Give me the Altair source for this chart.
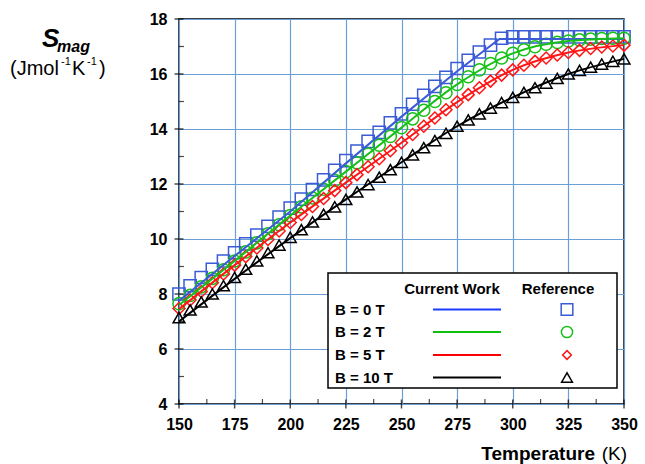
import altair as alt
import pandas as pd

FONT = "Liberation Sans"

# ---------------- data ----------------
series = ["B = 0 T", "B = 2 T", "B = 5 T", "B = 10 T"]

T_ref = list(range(150, 355, 5))
ref_b0 = [8.0, 8.3, 8.6, 8.9, 9.2, 9.5, 9.82, 10.14, 10.46, 10.8,
          11.12, 11.45, 11.8, 12.15, 12.5, 12.85, 13.2, 13.55, 13.88, 14.22,
          14.55, 14.9, 15.22, 15.55, 15.88, 16.2, 16.5, 16.8, 17.05, 17.3,
          17.35, 17.35, 17.35, 17.35, 17.35, 17.35, 17.35, 17.35, 17.35, 17.35, 17.35]
ref_b2 = [7.65, 7.95, 8.26, 8.57, 8.88, 9.2, 9.53, 9.86, 10.19, 10.52,
          10.85, 11.17, 11.49, 11.81, 12.13, 12.45, 12.77, 13.09, 13.41, 13.73,
          14.05, 14.37, 14.68, 15.0, 15.32, 15.62, 15.9, 16.15, 16.38, 16.58,
          16.75, 16.88, 16.99, 17.08, 17.15, 17.2, 17.24, 17.27, 17.29, 17.3, 17.3]
ref_b5 = [7.47, 7.78, 8.09, 8.41, 8.73, 9.05, 9.36, 9.67, 9.98, 10.29,
          10.6, 10.89, 11.18, 11.47, 11.76, 12.05, 12.34, 12.63, 12.92, 13.21,
          13.5, 13.8, 14.1, 14.4, 14.7, 14.98, 15.25, 15.5, 15.74, 15.96,
          16.15, 16.32, 16.46, 16.58, 16.69, 16.78, 16.86, 16.93, 16.98, 17.02, 17.05]
ref_b10 = [7.14, 7.42, 7.71, 8.0, 8.3, 8.6, 8.9, 9.2, 9.5, 9.78,
           10.06, 10.34, 10.62, 10.9, 11.17, 11.44, 11.71, 11.98, 12.25, 12.52,
           12.79, 13.06, 13.32, 13.58, 13.84, 14.1, 14.33, 14.55, 14.76, 14.96,
           15.15, 15.33, 15.5, 15.67, 15.84, 16.0, 16.13, 16.25, 16.36, 16.46, 16.55]

T_line_b0 = [150, 175, 200, 225, 250, 275, 294, 300, 325, 350]
line_b0 = [7.75, 9.38, 11.0, 12.75, 14.45, 16.1, 17.27, 17.27, 17.27, 17.27]
T_line = [150, 175, 200, 225, 250, 275, 300, 325, 350]
line_b2 = [7.6, 9.2, 10.85, 12.45, 14.05, 15.62, 16.75, 17.2, 17.3]
line_b5 = [7.45, 9.05, 10.6, 12.05, 13.5, 14.98, 16.15, 16.78, 17.05]
line_b10 = [7.0, 8.55, 10.03, 11.44, 12.79, 14.1, 15.15, 16.0, 16.55]

x_major = [150, 175, 200, 225, 250, 275, 300, 325, 350]
x_minor = [162.5, 187.5, 212.5, 237.5, 262.5, 287.5, 312.5, 337.5]
y_major = [4, 6, 8, 10, 12, 14, 16, 18]
y_minor = [5, 7, 9, 11, 13, 15, 17]

marker_colors = ["#3b5bd6", "#16c016", "#ff1515", "#000000"]
line_colors = ["#1a3cff", "#10c010", "#ff0000", "#8b4a1c"]
legend_line_colors = ["#1a3cff", "#10c010", "#ff0000", "#000000"]
shapes = ["square", "circle", "diamond", "triangle-up"]
sizes = [150, 140, 85, 130]

# ---------------- tables ----------------
ref_rows = []
for name, vals in zip(series, [ref_b0, ref_b2, ref_b5, ref_b10]):
    for t, v in zip(T_ref, vals):
        ref_rows.append({"T": t, "S": v, "series": name})
ref_df = pd.DataFrame(ref_rows)

line_rows = []
for name, ts, vals in zip(series, [T_line_b0, T_line, T_line, T_line],
                          [line_b0, line_b2, line_b5, line_b10]):
    for t, v in zip(ts, vals):
        line_rows.append({"T": t, "S": v, "series": name})
line_df = pd.DataFrame(line_rows)

xscale = alt.Scale(domain=[150, 350], nice=False, zero=False)
yscale = alt.Scale(domain=[4, 18], nice=False, zero=False)

xaxis = alt.Axis(values=x_major, grid=True, ticks=False, domain=False, title=None,
                 labelFont=FONT, labelFontSize=16, labelFontWeight="bold",
                 labelColor="black", labelPadding=12, labelFlush=False,
                 labelOverlap=False, gridColor="#6a9fd8", gridWidth=1.2)
yaxis = alt.Axis(values=y_major, grid=True, ticks=False, domain=False, title=None,
                 labelFont=FONT, labelFontSize=16, labelFontWeight="bold",
                 labelColor="black", labelPadding=12, labelFlush=False,
                 labelOverlap=False, gridColor="#6a9fd8", gridWidth=1.2)

cscale_m = alt.Scale(domain=series, range=marker_colors)
cscale_l = alt.Scale(domain=series, range=line_colors)

markers = alt.Chart(ref_df).mark_point(filled=False, strokeWidth=1.5, opacity=1).encode(
    x=alt.X("T:Q", scale=xscale, axis=xaxis),
    y=alt.Y("S:Q", scale=yscale, axis=yaxis),
    color=alt.Color("series:N", scale=cscale_m, legend=None),
    shape=alt.Shape("series:N", scale=alt.Scale(domain=series, range=shapes), legend=None),
    size=alt.Size("series:N", scale=alt.Scale(domain=series, range=sizes), legend=None),
)

lines_lin = alt.Chart(line_df[line_df.series == series[0]]).mark_line(
    strokeWidth=2, interpolate="linear").encode(
    x=alt.X("T:Q", scale=xscale), y=alt.Y("S:Q", scale=yscale),
    color=alt.Color("series:N", scale=cscale_l, legend=None))

lines_mono = alt.Chart(line_df[line_df.series != series[0]]).mark_line(
    strokeWidth=2, interpolate="monotone").encode(
    x=alt.X("T:Q", scale=xscale), y=alt.Y("S:Q", scale=yscale),
    color=alt.Color("series:N", scale=cscale_l, legend=None))

# axis ticks (crossing major, inner minor)
xt_major = alt.Chart(pd.DataFrame({"v": x_major})).mark_tick(
    orient="vertical", size=9, thickness=1.5, color="black").encode(
    x=alt.X("v:Q", scale=xscale), y=alt.datum(4))
xt_minor = alt.Chart(pd.DataFrame({"v": x_minor})).mark_tick(
    orient="vertical", size=5, thickness=1.2, color="black", yOffset=-2.5).encode(
    x=alt.X("v:Q", scale=xscale), y=alt.datum(4))
yt_major = alt.Chart(pd.DataFrame({"v": y_major})).mark_tick(
    orient="horizontal", size=9, thickness=1.5, color="black").encode(
    y=alt.Y("v:Q", scale=yscale), x=alt.datum(150))
yt_minor = alt.Chart(pd.DataFrame({"v": y_minor})).mark_tick(
    orient="horizontal", size=5, thickness=1.2, color="black", xOffset=2.5).encode(
    y=alt.Y("v:Q", scale=yscale), x=alt.datum(150))

one = pd.DataFrame({"k": [0]})


def txt(s, x, y, size, weight="normal", style="normal", align="left", baseline="alphabetic"):
    return alt.Chart(one).mark_text(
        text=s, font=FONT, fontSize=size, fontWeight=weight, fontStyle=style,
        align=align, baseline=baseline, color="black").encode(
        x=alt.value(x), y=alt.value(y))


# legend
legend_layers = [
    alt.Chart(one).mark_rect(fill="white", stroke="black", strokeWidth=1.5).encode(
        x=alt.value(149), x2=alt.value(438), y=alt.value(254), y2=alt.value(369)),
    txt("Current Work", 273, 270, 15, "bold", align="center", baseline="middle"),
    txt("Reference", 379, 270, 15, "bold", align="center", baseline="middle"),
]
row_y = [290.5, 313, 336, 358.5]
for i, name in enumerate(series):
    legend_layers.append(txt(name, 156, row_y[i], 15, "bold", baseline="middle"))
    legend_layers.append(alt.Chart(one).mark_rule(
        color=legend_line_colors[i], strokeWidth=2).encode(
        x=alt.value(254), x2=alt.value(322), y=alt.value(row_y[i]), y2=alt.value(row_y[i])))
    legend_layers.append(alt.Chart(one).mark_point(
        shape=shapes[i], filled=False, stroke=marker_colors[i], strokeWidth=1.5,
        size=sizes[i] * 0.9, opacity=1).encode(
        x=alt.value(388), y=alt.value(row_y[i])))

# axis titles
titles = [
    txt("S", -137, 28, 26, "bold", "italic"),
    txt("mag", -122, 33, 16, "bold", "italic"),
    txt("(Jmol", -169, 56, 20),
    txt("-1", -118, 46, 11),
    txt("K", -107, 56, 20),
    txt("-1", -92, 46, 11),
    txt(")", -80, 56, 20),
    txt("Temperature", 416, 441, 19, "bold", align="right"),
    txt("(K)", 448, 441, 19, align="right"),
]

chart = alt.layer(
    markers, lines_lin, lines_mono, xt_major, xt_minor, yt_major, yt_minor,
    *legend_layers, *titles
).properties(
    width=445, height=385,
    padding={"left": 179, "top": 19, "right": 21, "bottom": 60},
    autosize=alt.AutoSizeParams(type="none"),
    background="white",
).configure_view(stroke="black", strokeWidth=1.5)

chart.save("out.html", embed_options={"renderer": "svg", "actions": False})
